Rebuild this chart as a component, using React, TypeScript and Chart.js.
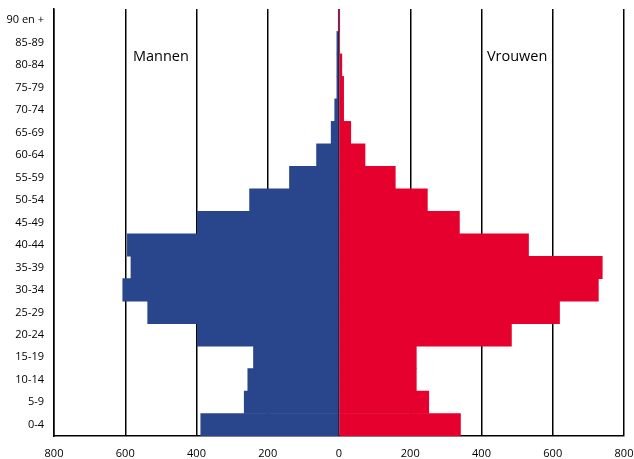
import React, { useEffect, useRef } from "react";
import { Chart, registerables } from "chart.js";

Chart.register(...registerables);

const categories = [
  "0-4", "5-9", "10-14", "15-19", "20-24", "25-29", "30-34", "35-39", "40-44",
  "45-49", "50-54", "55-59", "60-64", "65-69", "70-74", "75-79", "80-84", "85-89", "90 en +",
];
const mannen = [388, 266, 256, 240, 398, 537, 607, 584, 594, 398, 251, 139, 63, 22, 12, 6, 6, 6, 1];
const vrouwen = [341, 252, 217, 217, 484, 619, 728, 739, 532, 338, 248, 158, 73, 33, 13, 13, 8, 2, 1];
const xTicks = [-800, -600, -400, -200, 0, 200, 400, 600, 800];
const labelMannen = "Mannen";
const labelVrouwen = "Vrouwen";

const FONT = "'Open Sans', 'Noto Sans', sans-serif";

export default function App() {
  const ref = useRef<HTMLCanvasElement | null>(null);

  useEffect(() => {
    document.body.style.margin = "0";
    const canvas = ref.current;
    if (!canvas) return;

    const annot = {
      id: "annot",
      afterDatasetsDraw(chart: any) {
        const { ctx, scales } = chart;
        const xs = scales.x;
        const ys = scales.y;
        ctx.save();
        ctx.fillStyle = "#000";
        ctx.font = `14.5px ${FONT}`;
        ctx.textAlign = "center";
        ctx.textBaseline = "middle";
        const yy = ys.getPixelForValue(16.35);
        ctx.fillText(labelMannen, xs.getPixelForValue(-500), yy);
        ctx.fillText(labelVrouwen, xs.getPixelForValue(500), yy);
        ctx.restore();
      },
    };

    const chart = new Chart(canvas, {
      type: "bar",
      data: {
        labels: categories,
        datasets: [
          {
            label: labelMannen,
            data: mannen.map((v) => -v),
            backgroundColor: "#29458b",
            barPercentage: 1,
            categoryPercentage: 1,
          },
          {
            label: labelVrouwen,
            data: vrouwen,
            backgroundColor: "#e5002d",
            barPercentage: 1,
            categoryPercentage: 1,
          },
        ],
      },
      options: {
        indexAxis: "y",
        animation: false,
        responsive: false,
        maintainAspectRatio: false,
        layout: { padding: { top: 9, right: 10, left: 0, bottom: 0 } },
        plugins: {
          legend: { display: false },
          tooltip: { enabled: false },
        },
        scales: {
          x: {
            type: "linear",
            stacked: true,
            min: -800,
            max: 800,
            afterBuildTicks: (scale: any) => {
              scale.ticks = xTicks.map((v) => ({ value: v }));
            },
            afterFit: (scale: any) => {
              scale.height = 23;
              scale.paddingLeft = 0;
              scale.paddingRight = 0;
              scale.paddingTop = 0;
              scale.paddingBottom = 0;
            },
            grid: {
              color: "#000",
              lineWidth: 1.5,
              drawTicks: false,
            },
            border: { display: true, color: "#000", width: 1.5 },
            ticks: {
              padding: 11,
              color: "#000",
              font: { family: FONT, size: 11 },
              maxRotation: 0,
              callback: (v: any) => String(Math.abs(Number(v))),
            },
          },
          y: {
            type: "category",
            stacked: true,
            reverse: true,
            afterFit: (scale: any) => {
              scale.width = 54;
              scale.paddingLeft = 0;
              scale.paddingRight = 0;
              scale.paddingTop = 0;
              scale.paddingBottom = 0;
            },
            grid: { display: false, drawTicks: false },
            border: { display: true, color: "#000", width: 1.5 },
            ticks: {
              padding: 10,
              color: "#000",
              font: { family: FONT, size: 11 },
              autoSkip: false,
            },
          },
        },
      },
      plugins: [annot],
    });

    return () => chart.destroy();
  }, []);

  return (
    <div style={{ width: 634, height: 459 }}>
      <canvas ref={ref} width={634} height={459} style={{ width: 634, height: 459, display: "block" }} />
    </div>
  );
}
